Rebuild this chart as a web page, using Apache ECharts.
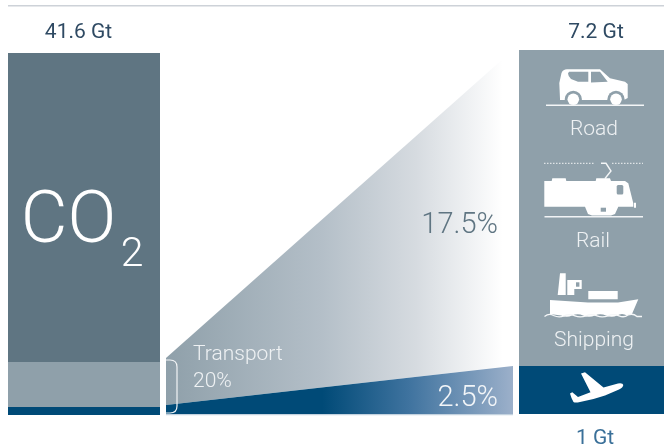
<!DOCTYPE html>
<html>
<head>
<meta charset="utf-8">
<style>html,body{margin:0;padding:0;background:#fff}#chart{width:664px;height:447px}</style>
<script src="https://cdn.jsdelivr.net/npm/echarts@6/dist/echarts.min.js"></script>
</head>
<body>
<div id="chart"></div>
<script>
// Global CO2 emissions (Gt), with the transport share broken out
const totalLabel = '41.6 Gt';
const co2Other = 35.51;
const co2Surface = 5.17;
const co2Aviation = 0.92;

// Transport emissions by mode group (Gt)
const surfaceGt = 7.2;
const aviationGt = 1;
const surfaceLabel = '7.2 Gt';
const aviationLabel = '1 Gt';
const modeLabels = ['Road', 'Rail', 'Shipping'];

// Share wedges, percent of all CO2: [left low, right low, left high, right high]
const surfaceWedge = [-2.16, 0, 0.44, 17.5];
const aviationWedge = [0, 0, 0.47, 2.5];
const surfaceShare = '17.5%';
const aviationShare = '2.5%';
const transportLabel = 'Transport';
const transportShare = '20%';

const FONT = 'Roboto, "Noto Sans", sans-serif';
const DARK = '#5f7582', GREY = '#8fa0aa', NAVY = '#004a77';

const chart = echarts.init(document.getElementById('chart'), null, { renderer: 'canvas' });

function hiddenCat() { return { show: false, type: 'category', data: ['x'] }; }
function hiddenVal(max) { return { show: false, type: 'value', min: 0, max: max }; }
function hiddenPos() { return { show: false, type: 'value', min: 0, max: 1 }; }

function stackBar(name, value, color, idx, stack) {
  return { name, type: 'bar', stack, xAxisIndex: idx, yAxisIndex: idx, barWidth: '100%',
    silent: true, data: [value], itemStyle: { color } };
}

// Wedges are polygons placed through the cartesian scales of their grid
function wedge(name, row, idx, stops, x0, x1) {
  return {
    name, type: 'custom', xAxisIndex: idx, yAxisIndex: idx, silent: true, data: [row],
    renderItem: function (params, api) {
      const pts = [
        api.coord([0, api.value(0)]), api.coord([1, api.value(1)]),
        api.coord([1, api.value(3)]), api.coord([0, api.value(2)])
      ];
      return {
        type: 'polygon',
        shape: { points: pts },
        style: { fill: new echarts.graphic.LinearGradient(x0, 0, x1, 0, stops, true) }
      };
    }
  };
}

function txt(text, x, y, size, fill, align, weight) {
  return { type: 'text', x, y, z: 20, silent: true,
    style: { text, fill, font: (weight || 400) + ' ' + size + 'px ' + FONT,
      textAlign: align || 'center', textVerticalAlign: 'middle' } };
}
function shape(d, fill) {
  return { type: 'path', shape: { pathData: d }, style: { fill } };
}
function stroke(d, color, width, dash) {
  return { type: 'path', shape: { pathData: d },
    style: { fill: 'none', stroke: color, lineWidth: width, lineDash: dash || null } };
}
function disc(cx, cy, r, fill) {
  return { type: 'circle', shape: { cx, cy, r }, style: { fill } };
}
function box(x, y, width, height, fill, r) {
  return { type: 'rect', shape: { x, y, width, height, r: r || 0 }, style: { fill } };
}

// Rule, bracket and mode pictograms, drawn in page pixels
const decorations = [
  box(8, 5, 656, 1.4, '#cdd2d8'),

  // Bracket around the transport share
  stroke('M166 360 H170 Q177 360 177 367 V406 Q177 413 170 413 H166', '#f2f4f6', 1.2),
  box(166, 414, 347, 1.2, '#c3d2df'),

  // Car
  shape('M560 99 L559.3 83 L561.5 73 Q563 69.3 567 69.3 L600 69.3 L610 78.3 L625 81.7 L627.7 84 L627.7 98 L624 100 L560 100 Z', '#fff'),
  shape('M569 71.7 L588.3 71.7 L588.3 81.7 L578 81.7 L571 79 Q568 76 568 73.5 Z M591 71.7 L600 71.7 L607.7 81.7 L591 82.5 Z', GREY),
  disc(573.3, 99.3, 8.6, GREY), disc(573.3, 99.3, 5.8, '#fff'),
  disc(616, 99.3, 8.6, GREY), disc(616, 99.3, 5.8, '#fff'),
  box(546, 104.5, 98, 1.5, '#f4f6f7'),

  // Locomotive
  stroke('M544 163.3 H594 M612 163.3 H643', '#f2f4f6', 1, [1.5, 1.5]),
  stroke('M601 163.3 H606 L611 171 L605 178.5', '#f4f6f7', 1.4),
  shape('M544.3 181 H551.7 L552.3 178.3 H565.7 L566.3 181 H595.7 L596.3 178.3 H610 L611 181 H625 L628.3 183.3 L633.3 203.3 V206.7 H618.3 L615 214 L611 215.5 H592 L588 214 L585 206.7 H544.3 Z', '#fff'),
  box(616.7, 185, 6.6, 9.4, GREY, 1.5),
  box(600.7, 207.7, 5.3, 4, GREY),
  box(634, 202.7, 2, 5, '#fff'),
  box(544.5, 216, 98.5, 1.5, '#f1f3f5'),

  // Container ship
  shape('M557.7 295 L560 273.3 L565.7 273.3 L565.7 295 Z M567.3 295 V280 H581.7 V289 H574.3 V295 Z M588.3 291 H617.7 V299.3 H588.3 Z', '#fff'),
  box(576, 282.3, 3.4, 4.4, GREY),
  shape('M550 300 L588 302.5 L618 302.5 L638.3 299.3 L632 314 L627 315.5 Q622 312.5 617 315.5 Q612 318 606 315.5 Q600 313 595 315.5 Q589 318 583 315.5 Q578 313 572 315.5 Q567 318 561 315.5 L550 314 Z', '#fff'),
  stroke('M544.5 316.5 Q549 313 553.5 315.5 Q559 318 564 315.8 Q569 313.5 575 315.8 Q580 318 586 315.8 Q591 313.5 597 315.8 Q602 318 608 315.8 Q613 313.5 619 315.8 Q624 318 628 315 Q633 313 637 316.5 L642 316.5', '#f5f7f8', 1.3),

  // Airliner
  shape('M581 373.5 L585 372.3 L603.5 387.5 L618 383.5 Q623 382.8 623.3 385 Q623 387.5 619 389.5 L605 395.5 Q592 400 580 402 Q575 403 573.5 402 Q571.5 399 570 393.5 L572.3 392.3 L578 397 L590.5 392.3 Z', '#fff')
];

const labels = [
  txt(totalLabel, 78.5, 33, 21, '#2f4a63'),
  txt(surfaceLabel, 596, 33, 21, '#2f4a63'),
  txt(aviationLabel, 595, 439, 21, '#3a7099'),

  txt('CO', 68.5, 224, 72, '#fff', 'center', 300),
  txt('2', 132, 256, 41, '#fff', 'center', 300),

  txt(transportLabel, 193, 355, 21, '#eef1f3', 'left', 300),
  txt(transportShare, 193, 382, 21, '#eef1f3', 'left', 300),
  txt(surfaceShare, 498, 226, 29, DARK, 'right', 300),
  txt(aviationShare, 498, 399, 29, '#f2f5f8', 'right', 300),

  txt(modeLabels[0], 594, 130, 21, '#eef1f3', 'center', 300),
  txt(modeLabels[1], 593, 242, 21, '#eef1f3', 'center', 300),
  txt(modeLabels[2], 594, 341, 21, '#eef1f3', 'center', 300)
];

const option = {
  animation: false,
  backgroundColor: '#fff',
  grid: [
    { left: 8, width: 152, top: 53, height: 362 },
    { left: 519, width: 145, top: 50, height: 316 },
    { left: 519, width: 145, top: 366, height: 48 },
    { left: 166, width: 347, top: 50, height: 316 },
    { left: 166, width: 347, top: 366, height: 48 }
  ],
  xAxis: [
    Object.assign(hiddenCat(), { gridIndex: 0 }),
    Object.assign(hiddenCat(), { gridIndex: 1 }),
    Object.assign(hiddenCat(), { gridIndex: 2 }),
    Object.assign(hiddenPos(), { gridIndex: 3 }),
    Object.assign(hiddenPos(), { gridIndex: 4 })
  ],
  yAxis: [
    Object.assign(hiddenVal(41.6), { gridIndex: 0 }),
    Object.assign(hiddenVal(surfaceGt), { gridIndex: 1 }),
    Object.assign(hiddenVal(aviationGt), { gridIndex: 2 }),
    Object.assign(hiddenVal(17.5), { gridIndex: 3 }),
    Object.assign(hiddenVal(2.5), { gridIndex: 4 })
  ],
  series: [
    wedge('Surface share', surfaceWedge, 3, [
      { offset: 0, color: GREY }, { offset: 0.45, color: '#b4bfc8' },
      { offset: 0.72, color: '#d6dbe0' }, { offset: 0.97, color: '#ffffff' }, { offset: 1, color: '#ffffff' }
    ], 166, 513),
    wedge('Aviation share', aviationWedge, 4, [
      { offset: 0, color: NAVY }, { offset: 0.45, color: NAVY },
      { offset: 0.7, color: '#3f739f' }, { offset: 1, color: '#9cb0ca' }
    ], 166, 513),
    stackBar('Aviation', co2Aviation, NAVY, 0, 'co2'),
    stackBar('Road, rail, shipping', co2Surface, GREY, 0, 'co2'),
    stackBar('Other', co2Other, DARK, 0, 'co2'),
    stackBar('Surface', surfaceGt, GREY, 1, 'surface'),
    stackBar('Aviation', aviationGt, NAVY, 2, 'air'),
    {
      name: 'Pictograms', type: 'custom', coordinateSystem: 'none', silent: true, z: 10, data: [0],
      renderItem: function () { return { type: 'group', children: decorations }; }
    }
  ],
  graphic: { elements: labels }
};
chart.setOption(option);
</script>
</body>
</html>
